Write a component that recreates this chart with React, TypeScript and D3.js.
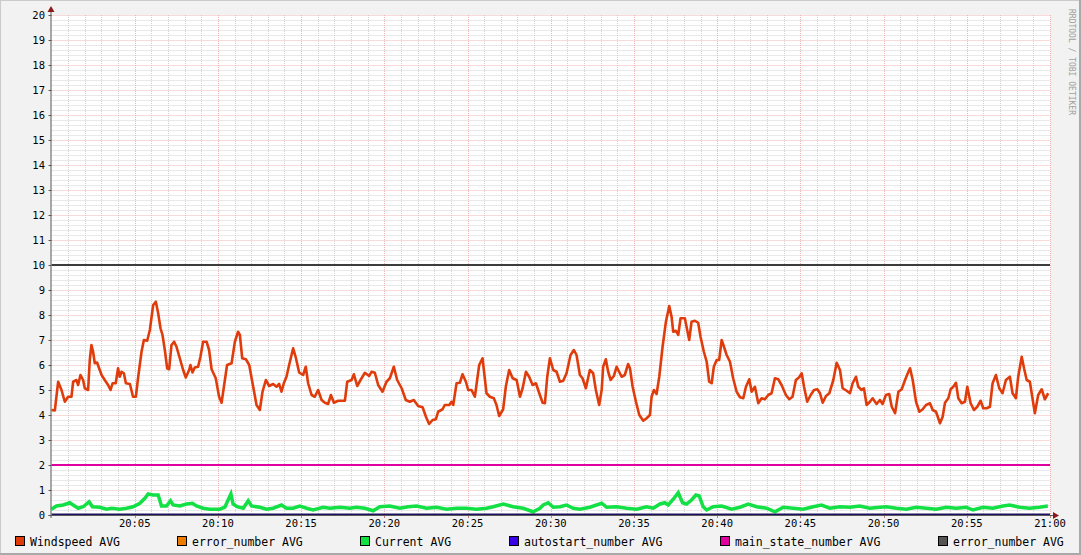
import React from "react";
import * as d3 from "d3";

// ---- data (minutes after 20:00, value) ----
const windspeed: [number, number][] = [
  [0.0, 4.2], [0.2, 4.18], [0.4, 5.33], [0.6, 5.0], [0.8, 4.53], [1.0, 4.73], [1.2, 4.73], [1.3, 5.33],
  [1.5, 5.4], [1.6, 5.2], [1.74, 5.6], [1.9, 5.4], [2.0, 5.07], [2.2, 5.0], [2.3, 6.2], [2.4, 6.8],
  [2.5, 6.53], [2.6, 6.07], [2.74, 6.1], [2.86, 5.87], [3.01, 5.6], [3.2, 5.4], [3.4, 5.2], [3.55, 5.0],
  [3.67, 5.27], [3.86, 5.27], [4.0, 5.87], [4.1, 5.53], [4.21, 5.73], [4.35, 5.67], [4.47, 5.27], [4.71, 5.24],
  [4.9, 4.73], [5.07, 4.73], [5.2, 5.47], [5.41, 6.53], [5.55, 7.0], [5.75, 6.97], [5.91, 7.4], [6.11, 8.4],
  [6.27, 8.53], [6.41, 8.07], [6.55, 7.47], [6.67, 7.2], [6.81, 6.6], [6.95, 5.87], [7.07, 5.83], [7.21, 6.8],
  [7.37, 6.93], [7.51, 6.73], [7.71, 6.27], [7.91, 5.8], [8.07, 5.5], [8.27, 5.8], [8.35, 6.0], [8.47, 5.7],
  [8.61, 5.9], [8.81, 5.93], [8.95, 6.33], [9.11, 6.93], [9.32, 6.93], [9.47, 6.6], [9.62, 5.83], [9.87, 5.47],
  [10.07, 4.73], [10.22, 4.49], [10.36, 5.13], [10.55, 6.0], [10.82, 6.07], [11.02, 6.93], [11.21, 7.33], [11.32, 7.2],
  [11.46, 6.27], [11.68, 6.23], [11.88, 6.0], [12.12, 5.13], [12.32, 4.4], [12.52, 4.2], [12.68, 4.93], [12.88, 5.4],
  [13.08, 5.16], [13.32, 5.24], [13.52, 5.13], [13.68, 5.24], [13.82, 4.93], [13.96, 5.27], [14.12, 5.53], [14.28, 6.0],
  [14.52, 6.67], [14.68, 6.3], [14.88, 5.7], [15.12, 5.6], [15.28, 5.93], [15.42, 5.27], [15.63, 4.8], [15.82, 4.73],
  [16.02, 5.0], [16.23, 4.6], [16.43, 4.49], [16.62, 4.44], [16.79, 4.8], [16.97, 4.49], [17.22, 4.57], [17.63, 4.57],
  [17.77, 5.33], [18.03, 5.4], [18.17, 5.63], [18.37, 5.16], [18.57, 5.4], [18.83, 5.69], [19.09, 5.56], [19.23, 5.73],
  [19.43, 5.69], [19.63, 5.2], [19.89, 4.93], [20.13, 5.33], [20.33, 5.47], [20.57, 5.93], [20.77, 5.4], [21.04, 5.07],
  [21.29, 4.6], [21.53, 4.53], [21.77, 4.6], [22.03, 4.36], [22.3, 4.31], [22.5, 3.93], [22.69, 3.64], [22.9, 3.8],
  [23.1, 3.83], [23.23, 4.13], [23.5, 4.23], [23.63, 4.4], [23.9, 4.4], [24.04, 4.53], [24.14, 4.4], [24.34, 5.27],
  [24.54, 5.29], [24.7, 5.63], [24.9, 5.33], [25.04, 5.0], [25.24, 5.0], [25.44, 4.73], [25.7, 6.0], [25.9, 6.27],
  [26.14, 4.87], [26.34, 4.73], [26.58, 4.67], [26.74, 4.4], [26.9, 3.96], [27.14, 4.23], [27.3, 5.13], [27.5, 5.8],
  [27.71, 5.47], [27.95, 5.4], [28.15, 4.73], [28.31, 5.07], [28.51, 5.73], [28.7, 5.53], [28.91, 5.2], [29.11, 5.27],
  [29.3, 4.89], [29.51, 4.49], [29.65, 4.47], [29.79, 5.53], [29.95, 6.27], [30.15, 5.8], [30.35, 5.73], [30.55, 5.33],
  [30.75, 5.37], [30.95, 5.67], [31.19, 6.4], [31.39, 6.6], [31.55, 6.4], [31.75, 5.6], [31.91, 5.47], [32.11, 5.07],
  [32.35, 5.8], [32.55, 5.67], [32.71, 5.0], [32.91, 4.4], [33.06, 5.0], [33.15, 5.93], [33.31, 6.23], [33.45, 5.73],
  [33.6, 5.4], [33.79, 5.56], [33.96, 5.93], [34.11, 5.73], [34.26, 5.53], [34.45, 5.6], [34.65, 6.04], [34.76, 5.87],
  [34.92, 5.13], [35.12, 4.53], [35.32, 4.0], [35.56, 3.77], [35.76, 3.87], [35.96, 4.0], [36.06, 4.73], [36.2, 5.0],
  [36.36, 4.84], [36.52, 5.53], [36.72, 6.73], [36.92, 7.73], [37.12, 8.36], [37.26, 7.93], [37.36, 7.33], [37.52, 7.37],
  [37.66, 7.2], [37.8, 7.87], [38.06, 7.87], [38.16, 7.53], [38.32, 7.0], [38.46, 7.73], [38.66, 7.77], [38.86, 7.69],
  [39.0, 7.13], [39.2, 6.53], [39.37, 6.13], [39.52, 5.33], [39.67, 5.27], [39.8, 5.93], [39.97, 6.2], [40.12, 6.2],
  [40.27, 7.0], [40.41, 6.73], [40.57, 6.4], [40.77, 6.13], [40.96, 5.47], [41.17, 4.93], [41.37, 4.71], [41.57, 4.67],
  [41.73, 5.13], [41.93, 5.43], [42.07, 4.93], [42.27, 5.13], [42.47, 4.47], [42.67, 4.67], [42.87, 4.63], [43.07, 4.8],
  [43.27, 4.87], [43.47, 5.47], [43.67, 5.43], [43.87, 5.2], [44.13, 4.8], [44.33, 4.63], [44.53, 4.73], [44.73, 5.4],
  [44.93, 5.51], [45.08, 5.67], [45.22, 5.13], [45.41, 4.53], [45.62, 4.8], [45.82, 5.0], [46.02, 5.03], [46.18, 4.87],
  [46.34, 4.49], [46.54, 4.76], [46.74, 4.87], [46.98, 5.4], [47.18, 6.09], [47.38, 5.8], [47.54, 5.07], [47.78, 4.97],
  [47.98, 4.87], [48.14, 5.27], [48.34, 5.53], [48.48, 5.13], [48.68, 5.0], [48.82, 5.07], [48.98, 4.4], [49.18, 4.53],
  [49.34, 4.67], [49.58, 4.44], [49.78, 4.6], [49.94, 4.44], [50.14, 4.8], [50.34, 4.84], [50.49, 4.33], [50.69, 4.07],
  [50.89, 4.93], [51.09, 5.03], [51.29, 5.4], [51.49, 5.73], [51.59, 5.87], [51.75, 5.4], [51.95, 4.53], [52.15, 4.13],
  [52.35, 4.23], [52.55, 4.4], [52.79, 4.47], [52.95, 4.2], [53.15, 4.13], [53.39, 3.67], [53.55, 3.93], [53.69, 4.49],
  [53.89, 4.67], [54.03, 5.03], [54.19, 5.13], [54.35, 5.29], [54.49, 4.67], [54.69, 4.47], [54.89, 4.53], [55.03, 5.13],
  [55.23, 4.47], [55.43, 4.2], [55.63, 4.33], [55.83, 4.57], [55.99, 4.27], [56.19, 4.27], [56.39, 4.33], [56.55, 5.27],
  [56.75, 5.6], [56.95, 5.07], [57.15, 4.87], [57.35, 5.4], [57.59, 5.53], [57.75, 4.87], [57.95, 4.67], [58.09, 5.53],
  [58.3, 6.33], [58.44, 5.87], [58.6, 5.4], [58.79, 5.33], [59.09, 4.07], [59.29, 4.8], [59.5, 5.03], [59.69, 4.63],
  [59.89, 4.87],
];

const current: [number, number][] = [
  [0.0, 0.23], [0.3, 0.36], [0.7, 0.4], [1.1, 0.49], [1.3, 0.4], [1.6, 0.27], [1.9, 0.33], [2.26, 0.53],
  [2.46, 0.33], [2.9, 0.31], [3.31, 0.23], [3.61, 0.27], [4.1, 0.23], [4.51, 0.27], [4.9, 0.33], [5.31, 0.47],
  [5.61, 0.67], [5.81, 0.84], [6.11, 0.8], [6.41, 0.8], [6.61, 0.36], [6.91, 0.36], [7.15, 0.57], [7.31, 0.4],
  [7.71, 0.36], [8.11, 0.44], [8.47, 0.47], [8.71, 0.36], [9.11, 0.27], [9.51, 0.23], [10.11, 0.23], [10.42, 0.31],
  [10.61, 0.6], [10.78, 0.84], [10.91, 0.44], [11.15, 0.33], [11.52, 0.27], [11.82, 0.57], [12.02, 0.36], [12.52, 0.31],
  [12.92, 0.23], [13.32, 0.27], [13.82, 0.4], [14.12, 0.27], [14.52, 0.27], [14.92, 0.36], [15.33, 0.27], [15.72, 0.2],
  [16.32, 0.31], [16.73, 0.27], [17.33, 0.31], [17.93, 0.27], [18.33, 0.31], [18.83, 0.27], [19.33, 0.17], [19.73, 0.33],
  [20.33, 0.36], [20.93, 0.27], [21.43, 0.33], [21.94, 0.36], [22.54, 0.27], [23.14, 0.31], [23.74, 0.23], [24.34, 0.27],
  [24.94, 0.27], [25.54, 0.23], [26.14, 0.27], [26.54, 0.33], [27.14, 0.44], [27.74, 0.33], [28.34, 0.27], [28.94, 0.13],
  [29.35, 0.27], [29.55, 0.4], [29.85, 0.49], [30.15, 0.31], [30.55, 0.33], [30.95, 0.4], [31.35, 0.27], [31.75, 0.23],
  [32.35, 0.31], [33.06, 0.47], [33.36, 0.31], [33.96, 0.33], [34.56, 0.27], [35.16, 0.23], [35.76, 0.33], [36.16, 0.27],
  [36.56, 0.44], [36.86, 0.49], [37.06, 0.4], [37.36, 0.63], [37.66, 0.89], [37.92, 0.49], [38.16, 0.44], [38.46, 0.6],
  [38.72, 0.8], [38.92, 0.76], [39.16, 0.33], [39.37, 0.2], [39.76, 0.33], [40.27, 0.36], [40.87, 0.23], [41.37, 0.31],
  [41.87, 0.44], [42.37, 0.33], [42.97, 0.27], [43.47, 0.13], [43.97, 0.31], [44.57, 0.27], [45.17, 0.23], [45.77, 0.33],
  [46.27, 0.4], [46.77, 0.27], [47.37, 0.33], [47.97, 0.31], [48.57, 0.36], [49.17, 0.27], [49.77, 0.31], [50.17, 0.33],
  [50.77, 0.27], [51.37, 0.23], [51.97, 0.31], [52.57, 0.27], [53.17, 0.23], [53.77, 0.31], [54.37, 0.27], [54.97, 0.31],
  [55.37, 0.2], [55.97, 0.31], [56.57, 0.27], [57.17, 0.36], [57.57, 0.4], [58.17, 0.31], [58.77, 0.27], [59.37, 0.31],
  [59.87, 0.36],
];

const errorNumberGrey = 10;
const mainStateNumber = 2;
const autostartNumber = 0;

const yTicks = d3.range(0, 21);
const xTickMinutes = [5, 10, 15, 20, 25, 30, 35, 40, 45, 50, 55, 60];
const xTickLabels = ["20:05", "20:10", "20:15", "20:20", "20:25", "20:30", "20:35", "20:40", "20:45", "20:50", "20:55", "21:00"];

const legendLabels = ["Windspeed AVG", "error_number AVG", "Current AVG", "autostart_number AVG", "main_state_number AVG", "error_number AVG"];
const legendColors = ["#E03C0B", "#EC7C00", "#10E040", "#3A00E8", "#E000A0", "#555555"];

// ---- layout ----
const W = 1081, H = 555;
const L = 51.5, R = 1050, T = 15, B = 515;
const mono = "'DejaVu Sans Mono', monospace";

export default function App() {
  const x = d3.scaleLinear().domain([0, 60]).range([L, R]);
  const y = d3.scaleLinear().domain([0, 20]).range([B, T]);
  const line = d3.line<[number, number]>().x(d => x(d[0])).y(d => y(d[1]));

  const minorX = d3.range(0, 61, 1).filter(m => m % 5 !== 0);
  const minorY = d3.range(0, 101).map(i => i * 0.2).filter(v => Math.abs(v - Math.round(v)) > 1e-6);
  const legendX = [15, 177, 360, 509, 720, 938];

  return (
    <svg width={W} height={H} style={{ position: "absolute", left: 0, top: 0, display: "block" }}
      fontFamily={mono}>
      <rect x={0} y={0} width={W} height={H} fill="#F2F2F2" />
      <line x1={0} y1={0.5} x2={W} y2={0.5} stroke="#CBCBCB" />
      <line x1={0.5} y1={0} x2={0.5} y2={H} stroke="#CBCBCB" />
      <rect x={0} y={H - 2} width={W} height={2} fill="#A9A9A9" />
      <rect x={W - 2} y={0} width={2} height={H} fill="#A9A9A9" />
      <rect x={L} y={T} width={R - L} height={B - T} fill="#FFFFFF" />

      {/* minor grid */}
      {minorX.map(m => (
        <line key={"mx" + m} x1={Math.round(x(m)) + 0.5} x2={Math.round(x(m)) + 0.5} y1={T} y2={B}
          stroke="#D2D2D2" strokeDasharray="1,1" />
      ))}
      {minorY.map(v => (
        <line key={"my" + v} x1={L} x2={R} y1={Math.round(y(v)) + 0.5} y2={Math.round(y(v)) + 0.5}
          stroke="#D2D2D2" strokeDasharray="1,1" />
      ))}
      {/* major grid */}
      {xTickMinutes.map(m => (
        <line key={"Mx" + m} x1={Math.round(x(m)) + 0.5} x2={Math.round(x(m)) + 0.5} y1={T} y2={B}
          stroke="#F0B4B4" strokeDasharray="1,1" />
      ))}
      {yTicks.filter(v => v > 0).map(v => (
        <line key={"My" + v} x1={L} x2={R} y1={Math.round(y(v)) + 0.5} y2={Math.round(y(v)) + 0.5}
          stroke="#F0B4B4" strokeDasharray="1,1" />
      ))}

      {/* y labels */}
      {yTicks.map(v => (
        <text key={"yl" + v} x={45} y={y(v)} dy="0.36em" textAnchor="end" fontSize={10.5} fill="#000">{v}</text>
      ))}
      {/* x labels */}
      {xTickMinutes.map((m, i) => (
        <text key={"xl" + m} x={x(m)} y={527} textAnchor="middle" fontSize={10.5} fill="#000">{xTickLabels[i]}</text>
      ))}

      {/* constant series */}
      <line x1={L} x2={R} y1={y(errorNumberGrey)} y2={y(errorNumberGrey)} stroke="#3C3C3C" strokeWidth={2} />
      <line x1={L} x2={R} y1={y(mainStateNumber)} y2={y(mainStateNumber)} stroke="#E000A0" strokeWidth={2} />

      {/* measured series */}
      <path d={line(current) || ""} fill="none" stroke="#12E044" strokeWidth={3.5} strokeLinejoin="miter" />
      <path d={line(windspeed) || ""} fill="none" stroke="#E03C0B" strokeWidth={2.6} strokeLinejoin="round" />

      <line x1={L} x2={R} y1={y(autostartNumber) - 0.5} y2={y(autostartNumber) - 0.5} stroke="#1E1060" strokeWidth={2} />

      {/* axes */}
      <line x1={L - 0.5} x2={L - 0.5} y1={B + 3} y2={11} stroke="#5A5A5A" />
      {yTicks.map(v => (
        <line key={"yt" + v} x1={L - 3} x2={L} y1={Math.round(y(v)) + 0.5} y2={Math.round(y(v)) + 0.5} stroke="#5A5A5A" />
      ))}
      {xTickMinutes.map(m => (
        <line key={"xt" + m} x1={Math.round(x(m)) + 0.5} x2={Math.round(x(m)) + 0.5} y1={B} y2={B + 3} stroke="#C08080" />
      ))}
      <line x1={L - 3} x2={R + 4} y1={B + 0.5} y2={B + 0.5} stroke="#5A5A5A" />
      <path d={`M${L - 4},${12} L${L - 0.5},${6} L${L + 3},${12} Z`} fill="#8B1A1A" />
      <path d={`M${R + 3},${B - 3} L${R + 9},${B + 0.5} L${R + 3},${B + 4} Z`} fill="#8B1A1A" />

      {/* watermark */}
      <text transform={`translate(1069,9) rotate(90)`} fontSize={8} fill="#A0A0A0">
        RRDTOOL / TOBI OETIKER
      </text>

      {/* legend */}
      {legendLabels.map((lab, i) => (
        <g key={"lg" + i}>
          <rect x={legendX[i] + 0.5} y={536.5} width={9} height={9} fill={legendColors[i]} stroke="#000" />
          <text x={legendX[i] + 15} y={545.5} fontSize={11.5} fill="#000">{lab}</text>
        </g>
      ))}
    </svg>
  );
}
